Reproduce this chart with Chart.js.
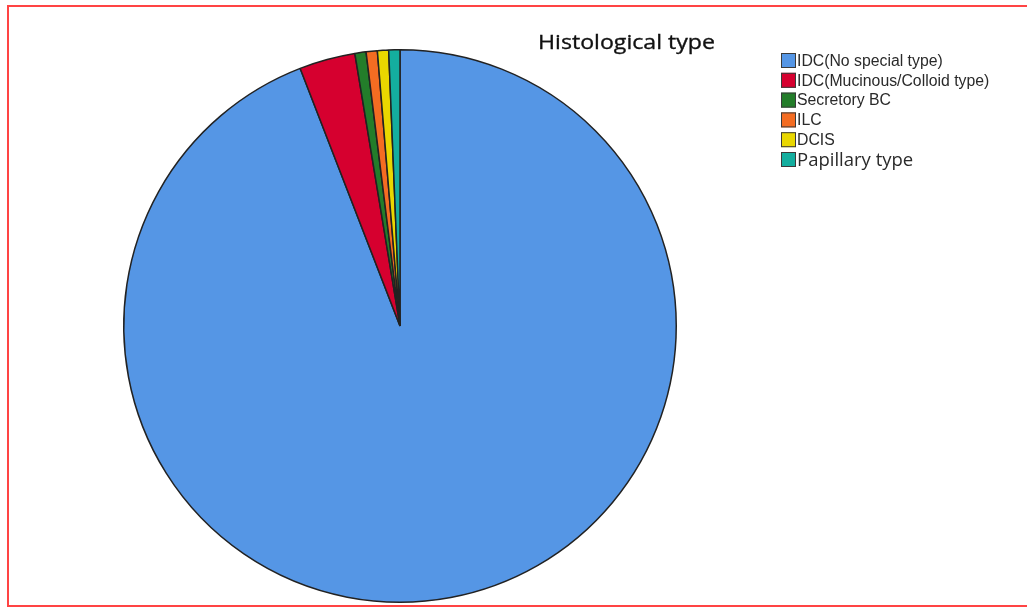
<!DOCTYPE html>
<html>
<head>
<meta charset="utf-8">
<script src="https://cdn.jsdelivr.net/npm/chart.js@4.4.0/dist/chart.umd.min.js"></script>
<style>
  html, body { margin: 0; padding: 0; background: #fff; overflow: hidden; }
  #wrap { position: relative; width: 1027px; height: 610px; }
  #frame { position: absolute; left: 7px; top: 5px; width: 1040px; height: 602px;
           box-sizing: border-box; border: 2px solid rgb(255,68,68); pointer-events: none; }
  canvas { position: absolute; left: 0; top: 0; }
</style>
</head>
<body>
<div id="wrap">
  <canvas id="c" width="1027" height="610"></canvas>
  <div id="frame"></div>
</div>
<script>
const chartTitle = "Histological type";
const categories = [
  "IDC(No special type)",
  "IDC(Mucinous/Colloid type)",
  "Secretory BC",
  "ILC",
  "DCIS",
  "Papillary type"
];
const counts = [144, 5, 1, 1, 1, 1];
const sliceColors = ["#5596e5", "#d6002f", "#237d2a", "#f46c22", "#e9d700", "#14ae9f"];

const legendFonts = [
  "15.8px 'Liberation Sans', Arial, sans-serif",
  "15.8px 'Liberation Sans', Arial, sans-serif",
  "15.8px 'Liberation Sans', Arial, sans-serif",
  "15.8px 'Liberation Sans', Arial, sans-serif",
  "15.8px 'Liberation Sans', Arial, sans-serif",
  "18.5px 'Open Sans', sans-serif"
];

const overlay = {
  id: 'overlay',
  afterDraw(chart) {
    const ctx = chart.ctx;
    ctx.save();
    ctx.font = "20.5px 'Open Sans', sans-serif";
    ctx.fillStyle = "#111";
    ctx.strokeStyle = "#111";
    ctx.lineWidth = 0.35;
    ctx.textBaseline = "alphabetic";
    const tw = ctx.measureText(chartTitle).width;
    const target = 177;
    ctx.translate(538, 49);
    ctx.scale(target / tw, 1);
    ctx.fillText(chartTitle, 0, 0);
    ctx.strokeText(chartTitle, 0, 0);
    ctx.restore();

    ctx.save();
    const ds = chart.data.datasets[0];
    const x0 = 781, y0 = 60.5, step = 19.8, box = 15;
    chart.data.labels.forEach((lab, i) => {
      const cy = y0 + i * step;
      ctx.fillStyle = ds.backgroundColor[i];
      ctx.fillRect(x0, cy - box / 2, box, box);
      ctx.strokeStyle = "#3a3a3a";
      ctx.lineWidth = 1;
      ctx.strokeRect(x0 + 0.5, cy - box / 2 + 0.5, box - 1, box - 1);
      ctx.fillStyle = "#2a2a2a";
      ctx.font = legendFonts[i];
      ctx.textBaseline = "middle";
      ctx.fillText(lab, x0 + box + 1, cy + 1);
    });
    ctx.restore();
  }
};

new Chart(document.getElementById('c'), {
  type: 'pie',
  data: {
    labels: categories,
    datasets: [{
      data: counts,
      backgroundColor: sliceColors,
      borderColor: "#222",
      borderWidth: 1.5
    }]
  },
  options: {
    responsive: false,
    animation: false,
    layout: { padding: { left: 123, top: 49, right: 350, bottom: 7 } },
    plugins: {
      legend: { display: false },
      title: { display: false },
      tooltip: { enabled: false }
    }
  },
  plugins: [overlay]
});
</script>
</body>
</html>
